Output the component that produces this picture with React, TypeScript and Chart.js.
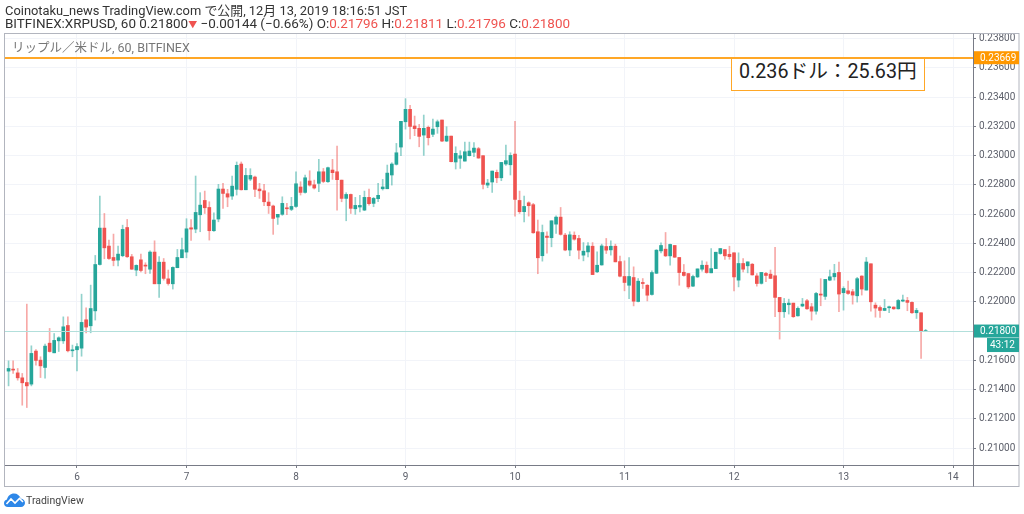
import React, { useEffect, useRef } from "react";
import { Chart, registerables } from "chart.js";

Chart.register(...registerables);

// prices in units of 0.00001, one candle per hour; the first candle is 15 hours before "day 6"
const FIRST_HOUR = -15;
const opens = [
  21526, 21539, 21514, 21480, 21448, 21437, 21663, 21601, 21551, 21717, 21651, 21733, 21733, 21838, 21665,
  21672, 21683, 21877, 21836, 21938, 22255, 22504, 22381, 22303, 22285, 22315, 22508, 22308, 22217, 22287, 22251, 22223, 22340, 22123, 22271, 22157, 22123, 22233, 22301,
  22340, 22506, 22497, 22595, 22693, 22645, 22486, 22566, 22771, 22739, 22723, 22769, 22942, 22766, 22839, 22853, 22771, 22759, 22682, 22655, 22579, 22598, 22641, 22632,
  22652, 22785, 22748, 22826, 22800, 22810, 22889, 22821, 22901, 22889, 22832, 22707, 22734, 22636, 22648, 22627, 22714, 22673, 22705, 22773, 22773, 22867, 22940, 23058,
  23231, 23316, 23202, 23186, 23140, 23193, 23145, 23197, 23243, 23099, 23133, 22956, 22981, 22962, 22999, 23022, 23047, 22999, 22798, 22819, 22885, 22848, 22942, 22937,
  23010, 22693, 22616, 22677, 22664, 22479, 22315, 22449, 22438, 22531, 22579, 22456, 22354, 22455, 22433, 22319, 22341, 22380, 22205, 22252, 22378, 22355, 22380, 22275,
  22173, 22113, 22166, 22002, 22132, 22113, 22050, 22195, 22348, 22360, 22314, 22385, 22303, 22202, 22193, 22107, 22170, 22223, 22250, 22198, 22227, 22330, 22357, 22325,
  22335, 22148, 22262, 22246, 22257, 22177, 22126, 22194, 22189, 22178, 22030, 21932, 21980, 21991, 21904, 21971, 22007, 21966, 21936, 22053, 22037, 22148, 22171, 22201,
  22062, 22075, 22069, 22041, 22176, 22080, 22260, 21977, 21961, 21941, 21959, 21964, 21952, 22005, 22009, 21996, 21925, 21925, 21796,
];
const closes = [
  21544, 21533, 21480, 21446, 21425, 21647, 21599, 21562, 21697, 21660, 21736, 21754, 21829, 21665, 21669,
  21694, 21859, 21827, 21954, 22255, 22504, 22369, 22296, 22283, 22326, 22495, 22308, 22223, 22249, 22214, 22244, 22340, 22123, 22271, 22160, 22125, 22235, 22303, 22356,
  22499, 22497, 22611, 22661, 22643, 22486, 22559, 22771, 22741, 22716, 22791, 22933, 22766, 22864, 22864, 22769, 22759, 22684, 22657, 22570, 22598, 22673, 22636, 22652,
  22807, 22748, 22848, 22798, 22778, 22889, 22823, 22917, 22883, 22835, 22707, 22734, 22639, 22659, 22659, 22714, 22671, 22707, 22728, 22785, 22880, 22942, 23019, 23234,
  23316, 23199, 23184, 23131, 23186, 23122, 23181, 23231, 23099, 23133, 22958, 23015, 22999, 23026, 23031, 23051, 22983, 22803, 22812, 22894, 22848, 22953, 22965, 23001,
  22700, 22616, 22652, 22657, 22472, 22301, 22474, 22440, 22554, 22579, 22461, 22354, 22458, 22428, 22353, 22346, 22382, 22186, 22250, 22382, 22353, 22380, 22273, 22175,
  22132, 22173, 22004, 22141, 22125, 22045, 22200, 22353, 22385, 22314, 22392, 22305, 22200, 22180, 22102, 22173, 22225, 22250, 22200, 22227, 22339, 22364, 22314, 22309,
  22170, 22262, 22223, 22273, 22184, 22125, 22201, 22180, 22160, 22030, 21932, 21989, 21991, 21898, 21955, 21984, 21952, 21936, 22057, 22046, 22153, 22171, 22194, 22053,
  22091, 22057, 22046, 22158, 22087, 22272, 22000, 21957, 21941, 21955, 21966, 21952, 22009, 22012, 21996, 21925, 21941, 21802, 21800,
];
const highs = [
  21596, 21596, 21544, 21510, 21984, 21699, 21674, 21624, 21710, 21818, 21783, 21761, 21897, 21897, 21704,
  21715, 22052, 21959, 22114, 22317, 22723, 22604, 22422, 22463, 22381, 22524, 22563, 22324, 22253, 22326, 22267, 22349, 22417, 22310, 22296, 22217, 22239, 22358, 22435,
  22568, 22563, 22860, 22746, 22757, 22684, 22609, 22803, 22810, 22769, 22860, 22956, 22956, 22912, 22910, 22860, 22810, 22803, 22746, 22661, 22598, 22718, 22673, 22714,
  22889, 22821, 22867, 22896, 22832, 22974, 22912, 22921, 22974, 23065, 22832, 22746, 22737, 22714, 22728, 22757, 22771, 22714, 22810, 22837, 22935, 22951, 23083, 23234,
  23389, 23343, 23270, 23213, 23277, 23202, 23250, 23243, 23243, 23197, 23133, 23060, 23033, 23092, 23092, 23088, 23056, 22999, 22837, 22894, 22901, 22953, 23072, 23019,
  23234, 22757, 22723, 22684, 22673, 22559, 22525, 22479, 22554, 22588, 22645, 22468, 22479, 22478, 22455, 22405, 22405, 22405, 22341, 22394, 22433, 22417, 22394, 22312,
  22280, 22303, 22239, 22159, 22159, 22118, 22211, 22357, 22403, 22474, 22394, 22385, 22303, 22255, 22193, 22182, 22225, 22280, 22273, 22364, 22339, 22364, 22357, 22380,
  22335, 22335, 22296, 22273, 22262, 22193, 22201, 22201, 22217, 22372, 22030, 22023, 22018, 21991, 21966, 22023, 22016, 21989, 22064, 22158, 22153, 22217, 22256, 22272,
  22103, 22142, 22085, 22167, 22178, 22303, 22260, 21993, 21973, 22016, 21971, 21966, 22016, 22046, 22030, 22000, 21955, 21925, 21811,
];
const lows = [
  21425, 21510, 21464, 21293, 21277, 21425, 21567, 21482, 21478, 21656, 21651, 21660, 21715, 21658, 21624,
  21528, 21628, 21788, 21788, 21875, 22251, 22294, 22290, 22246, 22246, 22308, 22303, 22221, 22178, 22205, 22192, 22194, 22123, 22030, 22148, 22114, 22087, 22233, 22301,
  22301, 22420, 22472, 22479, 22604, 22422, 22481, 22547, 22639, 22650, 22700, 22730, 22764, 22766, 22828, 22718, 22707, 22657, 22604, 22461, 22529, 22591, 22595, 22623,
  22645, 22730, 22743, 22791, 22771, 22753, 22814, 22816, 22837, 22627, 22684, 22554, 22604, 22598, 22614, 22623, 22661, 22650, 22684, 22764, 22773, 22798, 22935, 22999,
  23181, 23113, 23136, 23060, 23001, 23072, 23129, 23152, 23095, 23095, 22956, 22908, 22912, 22962, 22997, 22992, 22981, 22771, 22780, 22748, 22814, 22828, 22933, 22867,
  22586, 22604, 22547, 22586, 22468, 22192, 22278, 22333, 22376, 22468, 22456, 22349, 22315, 22421, 22294, 22280, 22307, 22186, 22200, 22250, 22330, 22319, 22273, 22170,
  22075, 22022, 21972, 21999, 22091, 22006, 22045, 22193, 22335, 22309, 22250, 22303, 22113, 22175, 22091, 22104, 22166, 22209, 22195, 22198, 22227, 22325, 22289, 22291,
  22075, 22102, 22205, 22198, 22182, 22107, 22121, 22137, 22158, 21898, 21745, 21893, 21916, 21893, 21902, 21966, 21948, 21875, 21916, 21973, 22016, 22144, 22148, 21932,
  21943, 22050, 21984, 21998, 22046, 22080, 21936, 21895, 21893, 21939, 21925, 21948, 21950, 22000, 21939, 21920, 21886, 21613, 21796,
];
const FIRST_DAY = 6;
const ALERT_PRICE = 0.23669;
const LAST_PRICE = 0.218;
const COUNTDOWN = "43:12";

const UP = "#26a69a";
const DOWN = "#ef5350";
const UP_WICK = "rgba(38,166,154,0.5)";
const DOWN_WICK = "rgba(239,83,80,0.5)";
const FONT = "Roboto, 'Noto Sans CJK JP', sans-serif";

const overlays = {
  id: "overlays",
  afterDatasetsDraw(chart: any) {
    const { ctx, chartArea: a, scales } = chart;
    const y = scales.y;
    ctx.save();
    const lastY = y.getPixelForValue(LAST_PRICE);
    ctx.fillStyle = "#b2dfdb";
    ctx.fillRect(a.left, Math.round(lastY), a.right - a.left, 1);
    const alertY = y.getPixelForValue(ALERT_PRICE);
    ctx.fillStyle = "#ffa726";
    ctx.fillRect(a.left, Math.round(alertY) - 1, a.right - a.left, 2);
    ctx.restore();
  },
  afterDraw(chart: any) {
    const { ctx, chartArea: a, scales, width } = chart;
    const y = scales.y;
    const R = width - 5;
    ctx.save();
    ctx.strokeStyle = "#b2b5be";
    ctx.lineWidth = 1;
    ctx.strokeRect(4.5, 33.5, R - 4.5, 453);
    ctx.strokeStyle = "#787b86";
    ctx.beginPath();
    ctx.moveTo(a.right + 0.5, 33.5);
    ctx.lineTo(a.right + 0.5, 486.5);
    ctx.moveTo(5, a.bottom + 0.5);
    ctx.lineTo(R, a.bottom + 0.5);
    ctx.stroke();
    ctx.font = "10px " + FONT;
    ctx.textBaseline = "middle";
    ctx.textAlign = "left";
    const tag = (v: number, c: string) => {
      const py = y.getPixelForValue(v);
      ctx.fillStyle = c;
      ctx.fillRect(a.right + 1, py - 6.5, R - a.right - 1, 13);
      ctx.fillStyle = "#ffffff";
      ctx.fillText(v.toFixed(5), a.right + 7, py + 0.5);
    };
    tag(ALERT_PRICE, "#ff9800");
    tag(LAST_PRICE, UP);
    const py = y.getPixelForValue(LAST_PRICE) + 7;
    ctx.fillStyle = UP;
    ctx.fillRect(987, py, R - 987, 14);
    ctx.fillStyle = "#ffffff";
    ctx.fillText(COUNTDOWN, 990, py + 7.5);
    ctx.restore();
  },
};

const abs = (left: number, top: number, extra: React.CSSProperties = {}): React.CSSProperties => ({
  position: "absolute",
  left,
  top,
  whiteSpace: "nowrap",
  fontFamily: FONT,
  ...extra,
});

export default function App() {
  const ref = useRef<HTMLCanvasElement>(null);
  useEffect(() => {
    const hours = opens.map((_, i) => FIRST_HOUR + i);
    const isUp = opens.map((o, i) => closes[i] >= o);
    const chart = new Chart(ref.current as HTMLCanvasElement, {
      type: "bar",
      data: {
        datasets: [
          {
            label: "body",
            data: hours.map((x, i) => ({ x, y: [opens[i] / 1e5, closes[i] / 1e5] })) as any,
            backgroundColor: isUp.map((u) => (u ? UP : DOWN)),
            barThickness: 3,
            minBarLength: 1,
            grouped: false,
          } as any,
          {
            label: "wick",
            data: hours.map((x, i) => ({ x, y: [lows[i] / 1e5, highs[i] / 1e5] })) as any,
            backgroundColor: isUp.map((u) => (u ? UP_WICK : DOWN_WICK)),
            barThickness: 1,
            grouped: false,
          } as any,
        ],
      },
      options: {
        responsive: false,
        animation: false,
        events: [],
        layout: { padding: { left: 5, top: 33, right: 5, bottom: 28 } },
        plugins: { legend: { display: false }, tooltip: { enabled: false } },
        scales: {
          x: {
            type: "linear",
            offset: false,
            min: -15.78,
            max: 196.38,
            afterFit(s: any) { s.height = 21; },
            border: { display: false },
            grid: { offset: false, color: "#f2f4f9", tickColor: "#787b86", tickLength: 3 },
            ticks: {
              stepSize: 24,
              includeBounds: false,
              maxRotation: 0,
              padding: 3,
              color: "#5d606b",
              font: { family: FONT, size: 10 },
              callback: (v: any) => String(FIRST_DAY + Number(v) / 24),
            },
          },
          y: {
            type: "linear",
            position: "right",
            min: 0.20884,
            max: 0.23838,
            afterFit(s: any) { s.width = 46; },
            border: { display: false },
            grid: { color: "#f2f4f9", tickColor: "#787b86", tickLength: 3 },
            ticks: {
              stepSize: 0.002,
              includeBounds: false,
              padding: 3,
              color: "#5d606b",
              font: { family: FONT, size: 10 },
              callback: (v: any) => Number(v).toFixed(5),
            },
          },
        },
      } as any,
      plugins: [overlays as any],
    });
    return () => chart.destroy();
  }, []);

  return (
    <div style={{ position: "fixed", left: 0, top: 0, width: 1024, height: 514, background: "#fff", overflow: "hidden" }}>
      <canvas ref={ref} width={1024} height={514} style={{ position: "absolute", left: 0, top: 0, width: 1024, height: 514 }} />
      <div style={abs(5, 3, { fontSize: 12.9, lineHeight: "15px", color: "#333" })}>
        Coinotaku_news TradingView.com で公開, 12月 13, 2019 18:16:51 JST
      </div>
      <div style={abs(5, 16, { fontSize: 13.45, lineHeight: "15px", color: "#333" })}>
        BITFINEX:XRPUSD, 60 0.21800<span style={{ color: DOWN, fontSize: 9 }}>▼</span> −0.00144 (−0.66%) O:
        <span style={{ color: DOWN }}>0.21796</span> H:<span style={{ color: DOWN }}>0.21811</span> L:
        <span style={{ color: DOWN }}>0.21796</span> C:<span style={{ color: DOWN }}>0.21800</span>
      </div>
      <div style={abs(12, 40, { fontSize: 12.5, lineHeight: "15px", color: "#777" })}>リップル／米ドル, 60, BITFINEX</div>
      <div
        style={abs(731, 59, {
          width: 194,
          height: 32,
          boxSizing: "border-box",
          borderLeft: "1px solid #ffa726",
          borderRight: "1px solid #ffa726",
          borderBottom: "1px solid #ffa726",
          background: "#fff",
          paddingLeft: 7,
          fontSize: 19.7,
          lineHeight: "25px",
          color: "#222",
        })}
      >
        0.236ドル：25.63円
      </div>
      <svg style={{ position: "absolute", left: 4, top: 493 }} width="21" height="14" viewBox="0 0 21 14">
        <path d="M4 14 C1.5 14 0 12.3 0 10.2 C0 8.3 1.3 6.9 3 6.6 C3.6 3 6.6 0.5 10 0.5 C13.2 0.5 15.8 2.6 16.7 5.5 C19.2 5.8 21 7.7 21 10 C21 12.3 19.2 14 17 14 Z" fill="#2d87e8" />
        <path d="M2.5 11 L7 6 L11 10 L15.5 5.5 L19 9" fill="none" stroke="#fff" strokeWidth="1.6" />
      </svg>
      <div style={abs(26, 494, { fontSize: 10.5, lineHeight: "13px", color: "#444" })}>TradingView</div>
    </div>
  );
}
